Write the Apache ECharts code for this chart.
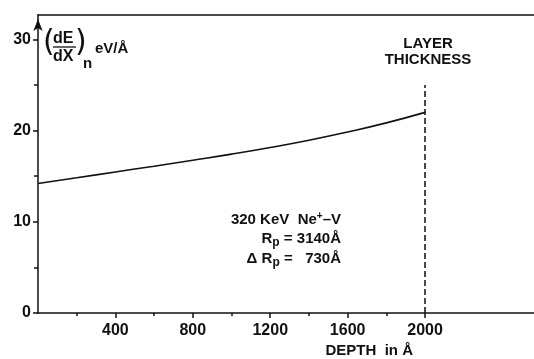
<!DOCTYPE html>
<html>
<head>
<meta charset="utf-8">
<script src="https://cdn.jsdelivr.net/npm/echarts@6/dist/echarts.min.js"></script>
<style>
  html, body { margin: 0; padding: 0; background: #fff; }
  #chart { width: 534px; height: 359px; }
</style>
</head>
<body>
<div id="chart"></div>
<script>
// Nuclear stopping power of 320 keV Ne+ in V versus depth
const depth = [0, 200, 400, 600, 800, 1000, 1200, 1400, 1600, 1800, 2000];
const stopping = [14.2, 14.83, 15.47, 16.1, 16.75, 17.42, 18.15, 18.95, 19.85, 20.85, 22.0];

const xMajorTicks = [400, 800, 1200, 1600, 2000];
const xMinorTicks = [200, 600, 1000, 1400, 1800];
const yMajorTicks = [0, 10, 20, 30];
const yMinorTicks = [5, 15, 25];

const layerThickness = 2000;
const markerTop = 25;

const X_MAX = 2563;
const Y_MAX = 32.68;

const FONT = '"Liberation Sans", Arial, sans-serif';
const INK = '#111';

const chart = echarts.init(document.getElementById('chart'), null, { renderer: 'canvas' });

const axisText = { color: INK, fontFamily: FONT, fontSize: 16, fontWeight: 'bold', formatter: v => String(v) };

chart.setOption({
  animation: false,
  backgroundColor: '#fff',
  grid: { left: 38, right: 0, top: 15, bottom: 46, containLabel: false },
  xAxis: [
    {
      type: 'value', min: 0, max: X_MAX, position: 'bottom',
      axisLine: { show: true, lineStyle: { color: INK, width: 1.5 } },
      axisTick: { show: true, length: 5, customValues: xMajorTicks, lineStyle: { color: INK, width: 1.5 } },
      axisLabel: Object.assign({ customValues: xMajorTicks, margin: 10 }, axisText),
      splitLine: { show: false }
    },
    {
      type: 'value', min: 0, max: X_MAX, position: 'top',
      axisLine: { show: true, onZero: false, lineStyle: { color: INK, width: 1.5 } },
      axisTick: { show: false }, axisLabel: { show: false }, splitLine: { show: false }
    },
    {
      type: 'value', min: 0, max: X_MAX, position: 'bottom',
      axisLine: { show: false },
      axisTick: { show: true, length: 3, customValues: xMinorTicks, lineStyle: { color: INK, width: 1.5 } },
      axisLabel: { show: false }, splitLine: { show: false }
    }
  ],
  yAxis: [
    {
      type: 'value', min: 0, max: Y_MAX, position: 'left',
      axisLine: {
        show: true, symbol: ['none', 'arrow'], symbolSize: [7, 12], symbolOffset: [0, -4],
        lineStyle: { color: INK, width: 1.5 }
      },
      axisTick: { show: true, length: 5, customValues: yMajorTicks, lineStyle: { color: INK, width: 1.5 } },
      axisLabel: Object.assign({ customValues: yMajorTicks, margin: 7 }, axisText),
      splitLine: { show: false }
    },
    {
      type: 'value', min: 0, max: Y_MAX, position: 'left',
      axisLine: { show: false },
      axisTick: { show: true, length: 4, customValues: yMinorTicks, lineStyle: { color: INK, width: 1.5 } },
      axisLabel: { show: false }, splitLine: { show: false }
    }
  ],
  series: [
    {
      type: 'line',
      xAxisIndex: 0, yAxisIndex: 0,
      data: depth.map((d, i) => [d, stopping[i]]),
      smooth: true,
      showSymbol: false,
      lineStyle: { color: INK, width: 1.6 },
      markLine: {
        silent: true,
        symbol: ['none', 'none'],
        label: { show: false },
        lineStyle: { color: INK, width: 1.5, type: [6, 3] },
        data: [[{ coord: [layerThickness, 0] }, { coord: [layerThickness, markerTop] }]]
      }
    }
  ],
  graphic: [
    // axis quantity: (dE/dX)_n eV/Å
    { type: 'text', left: 43, top: 28, style: { text: '(', font: '30px "DejaVu Sans", ' + FONT, fill: INK } },
    { type: 'text', left: 53, top: 31, style: { text: 'dE', font: 'bold 16px ' + FONT, fill: INK } },
    { type: 'line', shape: { x1: 53, y1: 47, x2: 76, y2: 47 }, style: { stroke: INK, lineWidth: 1.3 } },
    { type: 'text', left: 53, top: 49, style: { text: 'dX', font: 'bold 16px ' + FONT, fill: INK } },
    { type: 'text', left: 75, top: 28, style: { text: ')', font: '30px "DejaVu Sans", ' + FONT, fill: INK } },
    { type: 'text', left: 83, top: 56, style: { text: 'n', font: 'bold 15px ' + FONT, fill: INK } },
    { type: 'text', left: 95, top: 41, style: { text: 'eV/Å', font: 'bold 15px ' + FONT, fill: INK } },

    // layer thickness marker caption
    { type: 'text', x: 428, y: 44, style: { text: 'LAYER', font: 'bold 15px ' + FONT, fill: INK, align: 'center', verticalAlign: 'middle' } },
    { type: 'text', x: 428, y: 60, style: { text: 'THICKNESS', font: 'bold 15px ' + FONT, fill: INK, align: 'center', verticalAlign: 'middle' } },

    // implantation parameters
    {
      type: 'text', x: 341, y: 220,
      style: {
        text: '320 KeV  Ne{sup|+}–V', font: 'bold 15px ' + FONT, fill: INK, align: 'right', verticalAlign: 'middle',
        rich: { sup: { font: 'bold 10px ' + FONT, fill: INK, padding: [0, 0, 8, 0] } }
      }
    },
    {
      type: 'text', x: 341, y: 239,
      style: {
        text: 'R{sub|p} = 3140Å', font: 'bold 15px ' + FONT, fill: INK, align: 'right', verticalAlign: 'middle',
        rich: { sub: { font: 'bold 12px ' + FONT, fill: INK, padding: [8, 0, 0, 0] } }
      }
    },
    {
      type: 'text', x: 341, y: 259,
      style: {
        text: 'Δ R{sub|p} =   730Å', font: 'bold 15px ' + FONT, fill: INK, align: 'right', verticalAlign: 'middle',
        rich: { sub: { font: 'bold 12px ' + FONT, fill: INK, padding: [8, 0, 0, 0] } }
      }
    },

    // axis title
    { type: 'text', x: 413, y: 351, style: { text: 'DEPTH  in Å', font: 'bold 15px ' + FONT, fill: INK, align: 'right', verticalAlign: 'middle' } }
  ]
});
</script>
</body>
</html>
